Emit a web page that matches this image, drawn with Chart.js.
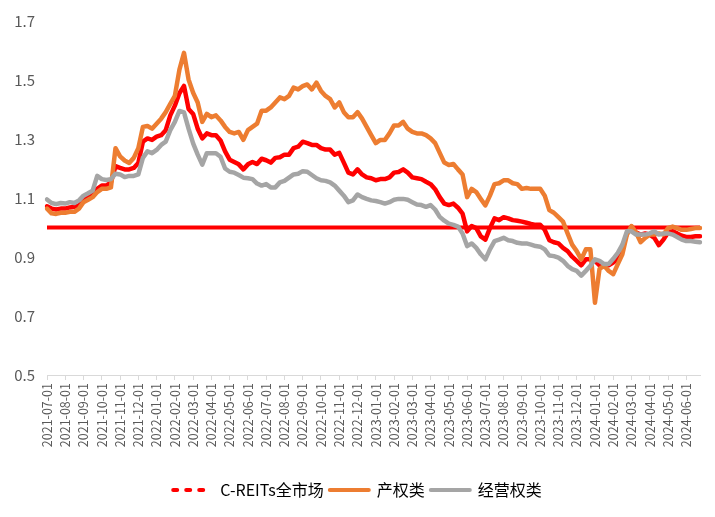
<!DOCTYPE html>
<html lang="zh-CN">
<head>
  <meta charset="UTF-8" />
  <title>C-REITs 指数走势</title>
  <script src="https://cdn.jsdelivr.net/npm/chart.js"></script>
  <style>
    html, body {
      margin: 0;
      padding: 0;
      background: #ffffff;
    }

    #chart-box {
      width: 715px;
      height: 517px;
      position: relative;
    }
  </style>
</head>
<body>
  <div id="chart-box">
    <canvas id="myChart"></canvas>
  </div>

  <script>
    // 月份（每月取 01/08/15/22 四个观察点）
    const months = [
      '2021-07', '2021-08', '2021-09', '2021-10', '2021-11', '2021-12',
      '2022-01', '2022-02', '2022-03', '2022-04', '2022-05', '2022-06',
      '2022-07', '2022-08', '2022-09', '2022-10', '2022-11', '2022-12',
      '2023-01', '2023-02', '2023-03', '2023-04', '2023-05', '2023-06',
      '2023-07', '2023-08', '2023-09', '2023-10', '2023-11', '2023-12',
      '2024-01', '2024-02', '2024-03', '2024-04', '2024-05', '2024-06'
    ];
    const days = ['01', '08', '15', '22'];

    const seriesNames = ['C-REITs全市场', '产权类', '经营权类'];
    const baseLevel = 1.0;
    const yTicks = [0.5, 0.7, 0.9, 1.1, 1.3, 1.5, 1.7];

    const allMarket = [
      1.072, 1.064, 1.061, 1.064, 1.064, 1.068, 1.070, 1.075, 1.092, 1.103,
      1.114, 1.131, 1.142, 1.142, 1.153, 1.208, 1.202, 1.197, 1.197, 1.202,
      1.219, 1.291, 1.302, 1.297, 1.308, 1.313, 1.330, 1.380, 1.413, 1.455,
      1.480, 1.402, 1.385, 1.335, 1.302, 1.319, 1.313, 1.313, 1.295, 1.258,
      1.230, 1.222, 1.214, 1.197, 1.214, 1.222, 1.215, 1.233, 1.228, 1.220,
      1.236, 1.238, 1.247, 1.247, 1.269, 1.274, 1.291, 1.286, 1.280, 1.280,
      1.269, 1.264, 1.264, 1.247, 1.253, 1.220, 1.186, 1.180, 1.197, 1.180,
      1.170, 1.167, 1.160, 1.164, 1.164, 1.170, 1.186, 1.188, 1.197, 1.186,
      1.170, 1.167, 1.164, 1.155, 1.147, 1.130, 1.103, 1.081, 1.076, 1.081,
      1.067, 1.047, 0.987, 1.005, 0.998, 0.970, 0.959, 0.998, 1.031, 1.025,
      1.035, 1.031, 1.025, 1.023, 1.020, 1.016, 1.012, 1.009, 1.009, 0.992,
      0.957, 0.950, 0.946, 0.931, 0.920, 0.901, 0.887, 0.872, 0.892, 0.892,
      0.887, 0.872, 0.872, 0.872, 0.881, 0.894, 0.931, 0.980, 1.003, 0.983,
      0.976, 0.980, 0.976, 0.965, 0.940, 0.959, 0.983, 0.987, 0.980, 0.972,
      0.968, 0.968, 0.970, 0.970
    ];

    const propertyType = [
      1.064, 1.048, 1.046, 1.050, 1.050, 1.053, 1.053, 1.064, 1.086, 1.094,
      1.103, 1.120, 1.131, 1.131, 1.136, 1.269, 1.241, 1.227, 1.219, 1.236,
      1.269, 1.341, 1.344, 1.335, 1.352, 1.369, 1.391, 1.419, 1.446, 1.535,
      1.592, 1.502, 1.457, 1.424, 1.358, 1.385, 1.374, 1.380, 1.363, 1.341,
      1.324, 1.319, 1.324, 1.297, 1.330, 1.341, 1.352, 1.396, 1.396, 1.407,
      1.424, 1.441, 1.435, 1.446, 1.474, 1.468, 1.479, 1.485, 1.468, 1.491,
      1.463, 1.446, 1.435, 1.407, 1.424, 1.391, 1.374, 1.374, 1.391, 1.369,
      1.341, 1.313, 1.286, 1.297, 1.297, 1.319, 1.346, 1.346, 1.358, 1.335,
      1.324, 1.319, 1.319, 1.313, 1.302, 1.286, 1.253, 1.220, 1.212, 1.215,
      1.197, 1.180, 1.103, 1.131, 1.120, 1.097, 1.075, 1.108, 1.147, 1.150,
      1.160, 1.160, 1.150, 1.147, 1.131, 1.134, 1.131, 1.131, 1.131, 1.108,
      1.059, 1.050, 1.035, 1.020, 0.980, 0.942, 0.920, 0.892, 0.926, 0.926,
      0.745, 0.860, 0.870, 0.853, 0.842, 0.876, 0.909, 0.976, 1.005, 0.983,
      0.950, 0.965, 0.976, 0.976, 0.980, 0.976, 0.998, 1.003, 0.998, 0.992,
      0.992, 0.995, 0.998, 0.998
    ];

    const operatingType = [
      1.095, 1.083, 1.079, 1.083, 1.081, 1.086, 1.083, 1.092, 1.108, 1.116,
      1.125, 1.175, 1.164, 1.161, 1.164, 1.182, 1.180, 1.171, 1.175, 1.175,
      1.180, 1.236, 1.258, 1.252, 1.263, 1.280, 1.291, 1.330, 1.358, 1.395,
      1.390, 1.335, 1.285, 1.247, 1.213, 1.252, 1.252, 1.252, 1.240, 1.200,
      1.189, 1.186, 1.178, 1.169, 1.167, 1.164, 1.149, 1.142, 1.147, 1.136,
      1.136, 1.153, 1.158, 1.169, 1.180, 1.182, 1.191, 1.189, 1.178, 1.167,
      1.160, 1.158, 1.153, 1.142, 1.125, 1.108, 1.086, 1.092, 1.112, 1.103,
      1.097, 1.092, 1.090, 1.086, 1.081, 1.086, 1.094, 1.097, 1.097, 1.094,
      1.086, 1.078, 1.076, 1.070, 1.076, 1.061, 1.036, 1.023, 1.013, 1.009,
      1.003, 0.980, 0.937, 0.946, 0.931, 0.909, 0.892, 0.926, 0.954, 0.959,
      0.965, 0.957, 0.954, 0.948, 0.946, 0.946, 0.942, 0.937, 0.935, 0.926,
      0.905, 0.903, 0.898, 0.887, 0.870, 0.859, 0.853, 0.837, 0.853, 0.870,
      0.892, 0.887, 0.876, 0.876, 0.894, 0.914, 0.942, 0.987, 0.987, 0.976,
      0.976, 0.976, 0.980, 0.987, 0.976, 0.980, 0.980, 0.976, 0.968, 0.959,
      0.954, 0.954, 0.952, 0.950
    ];

    const dates = [];
    months.forEach(m => days.forEach(d => dates.push(m + '-' + d)));

    const RED = '#ff0000';
    const ORANGE = '#ed7d31';
    const GREY = '#a5a5a5';
    const TEXT = '#595959';

    // 1.0 基准线，画在所有折线下面
    const baseLinePlugin = {
      id: 'baseLine',
      beforeDatasetsDraw(chart) {
        const { ctx, chartArea, scales } = chart;
        const y = scales.y.getPixelForValue(baseLevel);
        ctx.save();
        ctx.strokeStyle = RED;
        ctx.lineWidth = 4;
        ctx.beginPath();
        ctx.moveTo(chartArea.left, y);
        ctx.lineTo(chartArea.right, y);
        ctx.stroke();
        ctx.restore();
      }
    };

    const ctx = document.getElementById('myChart').getContext('2d');

    new Chart(ctx, {
      type: 'line',
      data: {
        labels: dates,
        datasets: [
          { label: seriesNames[2], data: operatingType, borderColor: GREY, order: 0 },
          { label: seriesNames[1], data: propertyType, borderColor: ORANGE, order: 1 },
          { label: seriesNames[0], data: allMarket, borderColor: RED, order: 2 }
        ]
      },
      options: {
        responsive: true,
        maintainAspectRatio: false,
        animation: false,
        datasets: {
          line: {
            borderWidth: 4.5,
            pointRadius: 0,
            tension: 0,
            borderJoinStyle: 'round',
            borderCapStyle: 'round'
          }
        },
        layout: {
          padding: { top: 17, right: 15, bottom: 9, left: 15 }
        },
        scales: {
          x: {
            grid: {
              display: true,
              drawOnChartArea: false,
              drawTicks: true,
              tickLength: 5,
              color: '#d9d9d9'
            },
            border: { display: true, color: '#d9d9d9', width: 1 },
            afterBuildTicks: axis => {
              axis.ticks = axis.ticks.filter(t => dates[t.value].endsWith('-' + days[0]));
            },
            afterFit: axis => { axis.height = 101; },
            ticks: {
              autoSkip: false,
              maxRotation: 90,
              minRotation: 90,
              padding: 3,
              color: TEXT,
              font: { family: 'Noto Sans CJK SC', size: 12.5 }
            }
          },
          y: {
            min: 0.5,
            max: 1.7,
            grid: { display: false, drawTicks: false },
            border: { display: false },
            afterBuildTicks: axis => {
              axis.ticks = yTicks.map(v => ({ value: v }));
            },
            afterFit: axis => { axis.width = 32; },
            ticks: {
              padding: 12,
              color: TEXT,
              font: { family: 'Noto Sans CJK SC', size: 15 },
              callback: v => v.toFixed(1)
            }
          }
        },
        plugins: {
          tooltip: { enabled: false },
          legend: {
            position: 'bottom',
            labels: {
              usePointStyle: true,
              pointStyleWidth: 39,
              padding: 6,
              color: TEXT,
              font: { family: 'Noto Sans CJK SC', size: 16 },
              generateLabels: () => [
                { text: seriesNames[0], strokeStyle: RED, fillStyle: RED, lineWidth: 4, lineDash: [4, 9], lineCap: 'round', pointStyle: 'line', datasetIndex: 2, hidden: false },
                { text: seriesNames[1], strokeStyle: ORANGE, fillStyle: ORANGE, lineWidth: 4, lineCap: 'round', pointStyle: 'line', datasetIndex: 1, hidden: false },
                { text: seriesNames[2], strokeStyle: GREY, fillStyle: GREY, lineWidth: 4, lineCap: 'round', pointStyle: 'line', datasetIndex: 0, hidden: false }
              ]
            }
          }
        }
      },
      plugins: [baseLinePlugin]
    });
  </script>
</body>
</html>
